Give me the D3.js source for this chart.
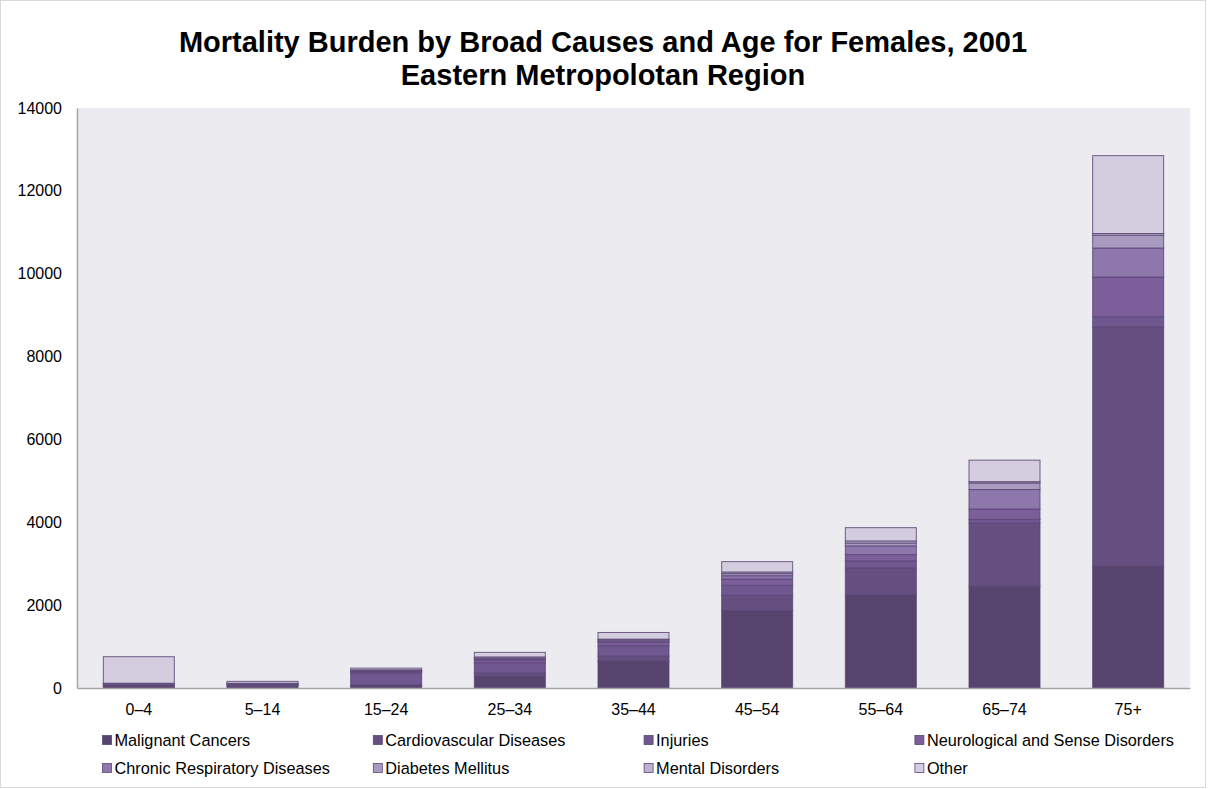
<!DOCTYPE html>
<html>
<head>
<meta charset="utf-8">
<script src="https://cdn.jsdelivr.net/npm/d3@7/dist/d3.min.js"></script>
<style>
  html, body { margin: 0; padding: 0; background: #fff; }
  svg { display: block; font-family: "Liberation Sans", Arial, sans-serif; }
</style>
</head>
<body>
<svg id="chart" width="1208" height="789"></svg>
<script>
// Age groups along the x axis
const ageGroups = ["0–4", "5–14", "15–24", "25–34", "35–44", "45–54", "55–64", "65–74", "75+"];

// Deaths (mortality burden) per cause, one value per age group
const malignantCancers      = [30, 45, 50, 290, 650, 1870, 2250, 2460, 2950];
const cardiovascular        = [15, 10, 20, 70, 120, 370, 650, 1520, 5770];
const injuries              = [30, 35, 290, 250, 250, 240, 170, 90, 240];
const neurological          = [30, 10, 30, 60, 80, 150, 150, 250, 960];
const chronicRespiratory    = [5, 5, 20, 30, 30, 80, 210, 470, 700];
const diabetesMellitus      = [0, 5, 10, 20, 30, 50, 70, 160, 310];
const mentalDisorders       = [5, 5, 20, 30, 20, 40, 50, 30, 40];
const other                 = [640, 45, 40, 110, 160, 250, 320, 520, 1880];

const seriesNames = [
  "Malignant Cancers", "Cardiovascular Diseases", "Injuries",
  "Neurological and Sense Disorders", "Chronic Respiratory Diseases",
  "Diabetes Mellitus", "Mental Disorders", "Other"
];
const seriesValues = [
  malignantCancers, cardiovascular, injuries, neurological,
  chronicRespiratory, diabetesMellitus, mentalDisorders, other
];
const seriesColors = [
  "#56446f", "#654f80", "#6f5790", "#7c5e9b",
  "#8d77ab", "#a99bbf", "#bdb1cf", "#d3cddf"
];

const yTicks = [0, 2000, 4000, 6000, 8000, 10000, 12000, 14000];

// Rows for d3.stack
const rows = ageGroups.map((g, i) => {
  const r = { group: g };
  seriesNames.forEach((s, j) => { r[s] = seriesValues[j][i]; });
  return r;
});

const svg = d3.select("#chart");
const W = 1208, H = 789;
const plot = { left: 77, right: 1190, top: 108, bottom: 688 };
const FONT = "'Liberation Sans', Arial, sans-serif";

// outer frame
svg.append("rect")
  .attr("x", 0.5).attr("y", 0.5)
  .attr("width", W - 3).attr("height", H - 2)
  .attr("fill", "#fff").attr("stroke", "#d9d9d9");

// plot area background
svg.append("rect")
  .attr("x", plot.left).attr("y", plot.top)
  .attr("width", plot.right - plot.left).attr("height", plot.bottom - plot.top)
  .attr("fill", "#ecebf0");

const x = d3.scaleBand()
  .domain(ageGroups)
  .range([plot.left, plot.right])
  .paddingInner(0.426)
  .paddingOuter(0.213);

const y = d3.scaleLinear()
  .domain([0, 14000])
  .range([plot.bottom, plot.top]);

const stacked = d3.stack().keys(seriesNames)(rows);
const color = d3.scaleOrdinal().domain(seriesNames).range(seriesColors);

// stacked bars
svg.append("g")
  .selectAll("g")
  .data(stacked)
  .join("g")
  .attr("fill", d => color(d.key))
  .selectAll("rect")
  .data(d => d)
  .join("rect")
  .attr("x", d => x(d.data.group))
  .attr("width", x.bandwidth())
  .attr("y", d => y(d[1]))
  .attr("height", d => Math.max(0, y(d[0]) - y(d[1])))
  .attr("stroke", "#5a4676")
  .attr("stroke-opacity", 0.85)
  .attr("stroke-width", 1);

// y axis
const yAxis = d3.axisLeft(y).tickValues(yTicks).tickSize(0).tickPadding(15)
  .tickFormat(d3.format("d"));
const gy = svg.append("g").attr("transform", `translate(${plot.left},0)`).call(yAxis);
gy.select(".domain").attr("stroke", "#a6a6a6").attr("stroke-width", 1.5);
gy.selectAll("text").attr("font-size", 16).attr("fill", "#000").attr("font-family", FONT);

// x axis
const xAxis = d3.axisBottom(x).tickSize(0).tickPadding(16);
const gx = svg.append("g").attr("transform", `translate(0,${plot.bottom})`).call(xAxis);
gx.select(".domain").attr("stroke", "#a6a6a6").attr("stroke-width", 1.5);
gx.selectAll("text").attr("font-size", 16).attr("fill", "#000").attr("font-family", FONT);

// title, two lines
const titleLines = [
  { text: "Mortality Burden by Broad Causes and Age for Females, 2001", y: 52 },
  { text: "Eastern Metropolotan Region", y: 85 }
];
svg.append("g")
  .selectAll("text")
  .data(titleLines)
  .join("text")
  .attr("x", 603)
  .attr("y", d => d.y)
  .attr("text-anchor", "middle")
  .attr("font-weight", "bold")
  .attr("font-size", 29)
  .attr("fill", "#000")
  .text(d => d.text);

// legend: two rows of four equal-width columns
const legendLeft = 102.5, legendColWidth = 270.8;
const legendRows = [740, 768];
const legend = svg.append("g");
seriesNames.forEach((name, i) => {
  const cx = legendLeft + legendColWidth * (i % 4);
  const cy = legendRows[Math.floor(i / 4)];
  const item = legend.append("g");
  item.append("rect")
    .attr("x", cx).attr("y", cy - 4.5)
    .attr("width", 9).attr("height", 9)
    .attr("fill", color(name))
    .attr("stroke", "#5a4676").attr("stroke-width", 0.8);
  item.append("text")
    .attr("x", cx + 12).attr("y", cy)
    .attr("dy", "0.36em")
    .attr("font-size", 16.3)
    .attr("fill", "#000")
    .text(name);
});
</script>
</body>
</html>
